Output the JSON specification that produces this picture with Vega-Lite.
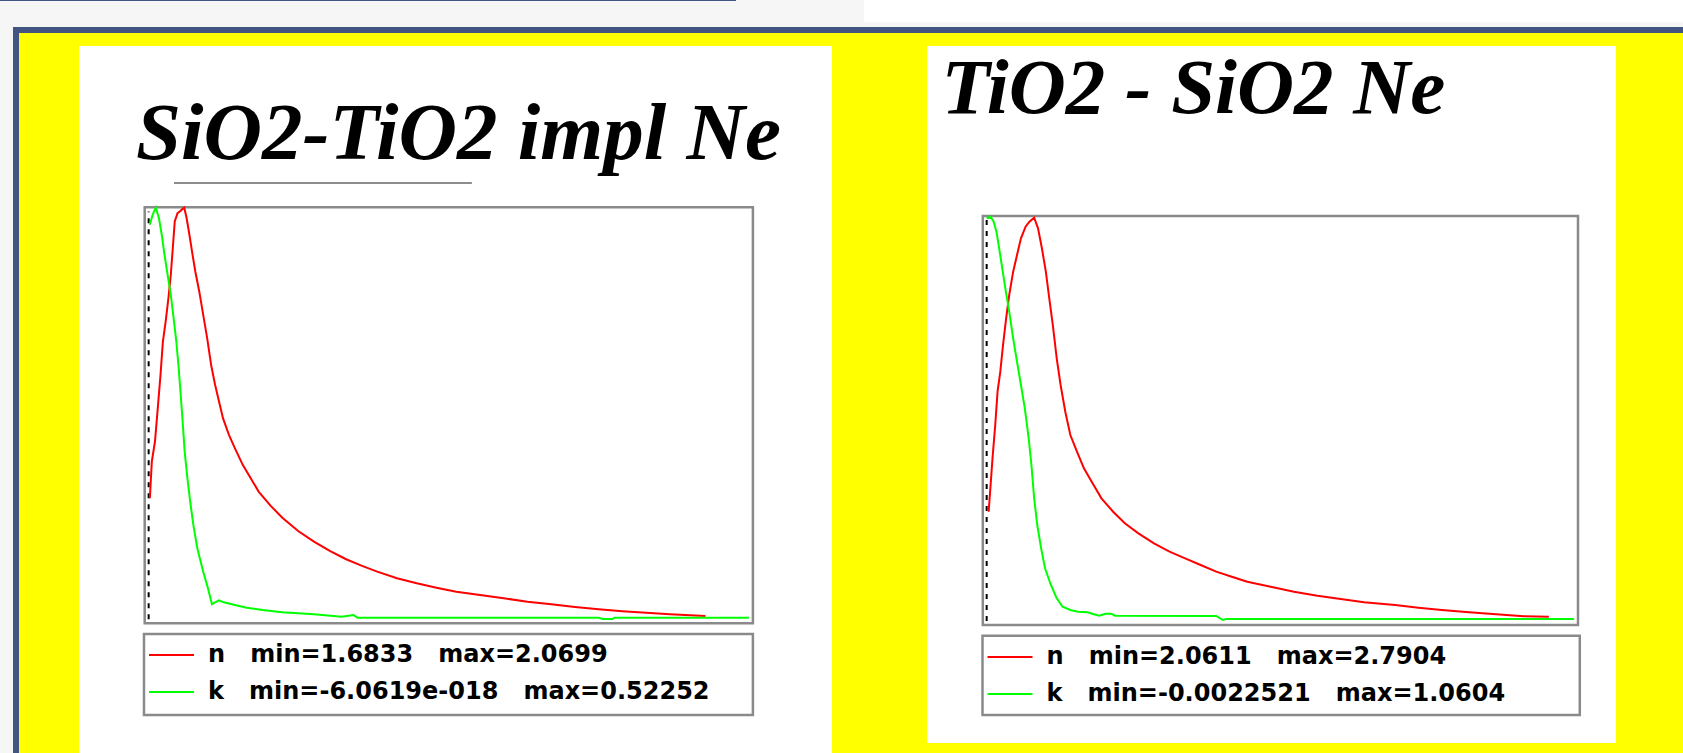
{
  "$schema": "https://vega.github.io/schema/vega-lite/v6.json",
  "background": "#ffff00",
  "padding": 0,
  "config": {"view": {"stroke": null}, "concat": {"spacing": 0}},
  "datasets": {
    "blank": [{}],
    "leftMarker": [{"wl": 6.5}],
    "rightMarker": [{"wl": 6.5}],
    "leftTitle": [{"t": "SiO2-TiO2 impl Ne"}],
    "rightTitle": [{"t": "TiO2 - SiO2 Ne"}],
    "left": [
      {"s":"n","wl":8.5,"v":1.7948},{"s":"n","wl":11.7,"v":1.8295},{"s":"n","wl":16.9,"v":1.8485},{"s":"n","wl":21.5,"v":1.8801},
      {"s":"n","wl":26.0,"v":1.9116},{"s":"n","wl":29.9,"v":1.9432},{"s":"n","wl":34.5,"v":1.9622},{"s":"n","wl":39.0,"v":1.9843},
      {"s":"n","wl":42.9,"v":2.0064},{"s":"n","wl":46.2,"v":2.0317},{"s":"n","wl":49.4,"v":2.0569},{"s":"n","wl":54.0,"v":2.0648},
      {"s":"n","wl":59.2,"v":2.0670},{"s":"n","wl":62.4,"v":2.0689},{"s":"n","wl":65.0,"v":2.0699},{"s":"n","wl":68.9,"v":2.0601},
      {"s":"n","wl":73.5,"v":2.0443},{"s":"n","wl":78.7,"v":2.0253},{"s":"n","wl":83.2,"v":2.0095},{"s":"n","wl":89.7,"v":1.9906},
      {"s":"n","wl":96.2,"v":1.9685},{"s":"n","wl":102.7,"v":1.9464},{"s":"n","wl":109.2,"v":1.9211},{"s":"n","wl":115.7,"v":1.9022},
      {"s":"n","wl":122.2,"v":1.8864},{"s":"n","wl":128.7,"v":1.8706},{"s":"n","wl":138.5,"v":1.8548},{"s":"n","wl":148.2,"v":1.8422},
      {"s":"n","wl":161.2,"v":1.8264},{"s":"n","wl":174.3,"v":1.8138},{"s":"n","wl":187.3,"v":1.8011},{"s":"n","wl":206.8,"v":1.7878},
      {"s":"n","wl":226.3,"v":1.7764},{"s":"n","wl":252.3,"v":1.7638},{"s":"n","wl":278.3,"v":1.7537},{"s":"n","wl":304.3,"v":1.7449},
      {"s":"n","wl":330.3,"v":1.7373},{"s":"n","wl":356.3,"v":1.7310},{"s":"n","wl":382.3,"v":1.7253},{"s":"n","wl":414.8,"v":1.7190},
      {"s":"n","wl":447.3,"v":1.7143},{"s":"n","wl":479.8,"v":1.7101},{"s":"n","wl":512.4,"v":1.7063},{"s":"n","wl":551.4,"v":1.7032},
      {"s":"n","wl":590.4,"v":1.7001},{"s":"n","wl":629.4,"v":1.6968},{"s":"n","wl":668.4,"v":1.6944},{"s":"n","wl":707.4,"v":1.6918},
      {"s":"n","wl":746.4,"v":1.6896},{"s":"n","wl":785.4,"v":1.6878},{"s":"n","wl":824.4,"v":1.6864},{"s":"n","wl":863.5,"v":1.6849},
      {"s":"n","wl":922.0,"v":1.6833},
      {"s":"k","wl":8.5,"v":0.5009},{"s":"k","wl":13.0,"v":0.5136},{"s":"k","wl":18.2,"v":0.52252},{"s":"k","wl":23.4,"v":0.5094},
      {"s":"k","wl":28.0,"v":0.4882},{"s":"k","wl":32.5,"v":0.4628},{"s":"k","wl":37.7,"v":0.4373},{"s":"k","wl":42.9,"v":0.4119},
      {"s":"k","wl":47.5,"v":0.3823},{"s":"k","wl":52.0,"v":0.3525},{"s":"k","wl":55.9,"v":0.3187},{"s":"k","wl":59.2,"v":0.2848},
      {"s":"k","wl":62.4,"v":0.2508},{"s":"k","wl":65.7,"v":0.2127},{"s":"k","wl":70.2,"v":0.1789},{"s":"k","wl":74.8,"v":0.1491},
      {"s":"k","wl":80.0,"v":0.1195},{"s":"k","wl":86.5,"v":0.0899},{"s":"k","wl":96.2,"v":0.0601},{"s":"k","wl":104.0,"v":0.0390},
      {"s":"k","wl":110.5,"v":0.0187},{"s":"k","wl":115.7,"v":0.0212},{"s":"k","wl":122.2,"v":0.0238},{"s":"k","wl":130.0,"v":0.0212},
      {"s":"k","wl":148.2,"v":0.0178},{"s":"k","wl":167.7,"v":0.0144},{"s":"k","wl":193.8,"v":0.0114},{"s":"k","wl":226.3,"v":0.0085},
      {"s":"k","wl":278.3,"v":0.0060},{"s":"k","wl":323.8,"v":0.0029},{"s":"k","wl":343.3,"v":0.0051},{"s":"k","wl":349.8,"v":0.0017},
      {"s":"k","wl":746.4,"v":0.0017},{"s":"k","wl":752.9,"v":0},{"s":"k","wl":769.2,"v":0},{"s":"k","wl":772.4,"v":0.0017},
      {"s":"k","wl":993.5,"v":0.0017}
    ],
    "right": [
      {"s":"n","wl":9.8,"v":2.2530},{"s":"n","wl":13.1,"v":2.3018},{"s":"n","wl":16.3,"v":2.3506},{"s":"n","wl":20.9,"v":2.4115},
      {"s":"n","wl":24.8,"v":2.4724},{"s":"n","wl":29.4,"v":2.5089},{"s":"n","wl":34.0,"v":2.5577},{"s":"n","wl":39.2,"v":2.6065},
      {"s":"n","wl":44.4,"v":2.6491},{"s":"n","wl":51.0,"v":2.6917},{"s":"n","wl":57.5,"v":2.7222},{"s":"n","wl":64.1,"v":2.7527},
      {"s":"n","wl":71.9,"v":2.7739},{"s":"n","wl":78.4,"v":2.7831},{"s":"n","wl":86.3,"v":2.7904},{"s":"n","wl":92.8,"v":2.7710},
      {"s":"n","wl":99.3,"v":2.7345},{"s":"n","wl":105.9,"v":2.6917},{"s":"n","wl":112.4,"v":2.6369},{"s":"n","wl":117.6,"v":2.5943},
      {"s":"n","wl":124.2,"v":2.5334},{"s":"n","wl":130.7,"v":2.4846},{"s":"n","wl":138.6,"v":2.4358},{"s":"n","wl":147.1,"v":2.3932},
      {"s":"n","wl":158.2,"v":2.3627},{"s":"n","wl":169.9,"v":2.3323},{"s":"n","wl":183.0,"v":2.3079},{"s":"n","wl":199.3,"v":2.2775},
      {"s":"n","wl":219.0,"v":2.2530},{"s":"n","wl":238.6,"v":2.2318},{"s":"n","wl":261.4,"v":2.2135},{"s":"n","wl":287.6,"v":2.1953},
      {"s":"n","wl":313.7,"v":2.1799},{"s":"n","wl":339.9,"v":2.1678},{"s":"n","wl":366.0,"v":2.1556},{"s":"n","wl":392.2,"v":2.1434},
      {"s":"n","wl":418.3,"v":2.1342},{"s":"n","wl":444.4,"v":2.1251},{"s":"n","wl":483.7,"v":2.1159},{"s":"n","wl":522.9,"v":2.1068},
      {"s":"n","wl":562.1,"v":2.0995},{"s":"n","wl":601.3,"v":2.0935},{"s":"n","wl":640.5,"v":2.0874},{"s":"n","wl":692.8,"v":2.0825},
      {"s":"n","wl":732.0,"v":2.0776},{"s":"n","wl":771.2,"v":2.0733},{"s":"n","wl":817.0,"v":2.0691},{"s":"n","wl":862.7,"v":2.0655},
      {"s":"n","wl":908.5,"v":2.0618},{"s":"n","wl":951.0,"v":2.0611},
      {"s":"k","wl":6.5,"v":1.0562},{"s":"k","wl":13.1,"v":1.0604},{"s":"k","wl":18.3,"v":1.0472},{"s":"k","wl":22.9,"v":1.0209},
      {"s":"k","wl":27.5,"v":0.9771},{"s":"k","wl":32.7,"v":0.9244},{"s":"k","wl":37.9,"v":0.8717},{"s":"k","wl":44.4,"v":0.8101},
      {"s":"k","wl":51.0,"v":0.7400},{"s":"k","wl":57.5,"v":0.6783},{"s":"k","wl":64.1,"v":0.6169},{"s":"k","wl":70.6,"v":0.5555},
      {"s":"k","wl":77.1,"v":0.4765},{"s":"k","wl":81.7,"v":0.4062},{"s":"k","wl":86.3,"v":0.3184},{"s":"k","wl":91.5,"v":0.2480},
      {"s":"k","wl":98.0,"v":0.1866},{"s":"k","wl":104.6,"v":0.1340},{"s":"k","wl":114.4,"v":0.0900},{"s":"k","wl":124.2,"v":0.0549},
      {"s":"k","wl":134.0,"v":0.0328},{"s":"k","wl":147.1,"v":0.0241},{"s":"k","wl":160.1,"v":0.0196},{"s":"k","wl":176.5,"v":0.0180},
      {"s":"k","wl":186.3,"v":0.0128},{"s":"k","wl":196.1,"v":0.0091},{"s":"k","wl":205.9,"v":0.0144},{"s":"k","wl":215.7,"v":0.0144},
      {"s":"k","wl":222.2,"v":0.0091},{"s":"k","wl":392.2,"v":0.0083},{"s":"k","wl":403.3,"v":-0.0022521},{"s":"k","wl":408.5,"v":0.0004},
      {"s":"k","wl":993.5,"v":0.0004}
    ]
  },
  "vconcat": [
    {"hconcat": [
      {"vconcat": [
        {"hconcat": [
          {"width": 736, "height": 1, "data": {"name": "blank"}, "mark": {"type": "rect", "color": "#425482"}, "view": {"fill": "#425482", "stroke": null}},
          {"width": 128, "height": 1, "data": {"name": "blank"}, "mark": {"type": "rect", "color": "#f6f6f6"}, "view": {"fill": "#f6f6f6", "stroke": null}}
        ]},
        {"width": 864, "height": 26, "data": {"name": "blank"}, "mark": {"type": "rect", "color": "#f6f6f6"}, "view": {"fill": "#f6f6f6", "stroke": null}}
      ]},
      {"vconcat": [
        {"width": 819, "height": 22, "data": {"name": "blank"}, "mark": {"type": "rect", "color": "#ffffff"}, "view": {"fill": "#ffffff", "stroke": null}},
        {"width": 819, "height": 5, "data": {"name": "blank"}, "mark": {"type": "rect", "color": "#f6f6f6"}, "view": {"fill": "#f6f6f6", "stroke": null}}
      ]}
    ]},
    {"hconcat": [
      {"width": 13, "height": 726, "data": {"name": "blank"}, "mark": {"type": "rect", "color": "#f6f6f6"}, "view": {"fill": "#f6f6f6", "stroke": null}},
      {"width": 6, "height": 726, "data": {"name": "blank"}, "mark": {"type": "rect", "color": "#425482"}, "view": {"fill": "#425482", "stroke": null}},
      {"vconcat": [
        {"width": 1664, "height": 6, "data": {"name": "blank"}, "mark": {"type": "rect", "color": "#425482"}, "view": {"fill": "#425482", "stroke": null}},
        {"width": 1664, "height": 13, "data": {"name": "blank"}, "mark": {"type": "rect", "opacity": 0}, "view": {"stroke": null}},
        {"hconcat": [
          {"width": 60, "height": 707, "data": {"name": "blank"}, "mark": {"type": "rect", "opacity": 0}, "view": {"stroke": null}},
          {
            "width": 753, "height": 707,
            "view": {"fill": "#ffffff", "stroke": null},
            "resolve": {"scale": {"y": "independent"}},
            "layer": [
              {"data": {"name": "leftMarker"}, "mark": {"type": "rect", "filled": false, "stroke": "#8a8a8a", "strokeWidth": 2.5},
               "encoding": {
                 "x": {"datum": 0, "type": "quantitative", "scale": {"domain": [0, 1000], "range": [65.7, 673.9], "nice": false, "zero": false}, "axis": null},
                 "x2": {"datum": 1000},
                 "y": {"datum": 0, "type": "quantitative", "scale": {"domain": [0, 1], "range": [577.3, 161.3], "nice": false, "zero": false}, "axis": null},
                 "y2": {"datum": 1}}},
              {"data": {"name": "leftMarker"}, "mark": {"type": "rect", "filled": false, "stroke": "#8a8a8a", "strokeWidth": 2.5},
               "encoding": {
                 "x": {"datum": -1.2, "type": "quantitative", "scale": {"domain": [0, 1000], "range": [65.7, 673.9], "nice": false, "zero": false}, "axis": null},
                 "x2": {"datum": 1000},
                 "y": {"datum": -0.0257, "type": "quantitative", "scale": {"domain": [0, 1], "range": [577.3, 161.3], "nice": false, "zero": false}, "axis": null},
                 "y2": {"datum": -0.2204}}},
              {"data": {"name": "leftMarker"}, "mark": {"type": "rule", "color": "#000000", "strokeWidth": 2, "strokeDash": [5, 6]},
               "encoding": {
                 "x": {"field": "wl", "type": "quantitative", "scale": {"domain": [0, 1000], "range": [65.7, 673.9], "nice": false, "zero": false}, "axis": null},
                 "y": {"datum": 0.01, "type": "quantitative", "scale": {"domain": [0, 1], "range": [577.3, 161.3], "nice": false, "zero": false}, "axis": null},
                 "y2": {"datum": 0.99}}},
              {"data": {"name": "leftTitle"}, "mark": {"type": "rule", "color": "#8c8c8c", "strokeWidth": 2},
               "encoding": {
                 "x": {"datum": 48.2, "type": "quantitative", "scale": {"domain": [0, 1000], "range": [65.7, 673.9], "nice": false, "zero": false}, "axis": null},
                 "x2": {"datum": 537.9},
                 "y": {"datum": 1.0584, "type": "quantitative", "scale": {"domain": [0, 1], "range": [577.3, 161.3], "nice": false, "zero": false}, "axis": null}}},
              {"data": {"name": "leftTitle"}, "mark": {"type": "text", "align": "left", "baseline": "alphabetic", "font": "Liberation Serif", "fontSize": 81, "fontStyle": "italic", "fontWeight": "bold", "color": "#000000"},
               "encoding": {
                 "text": {"field": "t"},
                 "x": {"datum": -14.3, "type": "quantitative", "scale": {"domain": [0, 1000], "range": [65.7, 673.9], "nice": false, "zero": false}, "axis": null},
                 "y": {"datum": 1.1161, "type": "quantitative", "scale": {"domain": [0, 1], "range": [577.3, 161.3], "nice": false, "zero": false}, "axis": null}}},
              {"data": {"name": "left"}, "transform": [{"filter": "datum.s == 'n'"}],
               "mark": {"type": "line", "strokeWidth": 2},
               "encoding": {
                 "x": {"field": "wl", "type": "quantitative", "scale": {"domain": [0, 1000], "range": [65.7, 673.9], "nice": false, "zero": false}, "axis": null},
                 "y": {"field": "v", "type": "quantitative", "scale": {"domain": [1.6833, 2.0699], "range": [570, 161.7], "nice": false, "zero": false}, "axis": null},
                 "color": {"field": "s", "type": "nominal", "scale": {"domain": ["n", "k"], "range": ["#ff0000", "#00ff00"]},
                   "legend": {"orient": "none", "legendX": 65, "legendY": 588, "title": null, "direction": "vertical",
                     "symbolType": "stroke", "symbolSize": 2025, "symbolStrokeWidth": 2,
                     "labelFont": "DejaVu Sans", "labelFontWeight": "bold", "labelFontSize": 24, "labelColor": "#000000", "labelLimit": 0,
                     "labelOffset": 13, "padding": 4, "rowPadding": 3, "clipHeight": 34,
                     "labelExpr": "datum.label == 'n' ? 'n\u00a0\u00a0\u00a0min=1.6833\u00a0\u00a0\u00a0max=2.0699' : 'k\u00a0\u00a0\u00a0min=-6.0619e-018\u00a0\u00a0\u00a0max=0.52252'"}}}},
              {"data": {"name": "left"}, "transform": [{"filter": "datum.s == 'k'"}],
               "mark": {"type": "line", "strokeWidth": 2},
               "encoding": {
                 "x": {"field": "wl", "type": "quantitative", "scale": {"domain": [0, 1000], "range": [65.7, 673.9], "nice": false, "zero": false}, "axis": null},
                 "y": {"field": "v", "type": "quantitative", "scale": {"domain": [0, 0.52252], "range": [573, 161.7], "nice": false, "zero": false}, "axis": null},
                 "color": {"field": "s", "type": "nominal", "scale": {"domain": ["n", "k"], "range": ["#ff0000", "#00ff00"]}}}}
            ]
          },
          {"width": 95, "height": 707, "data": {"name": "blank"}, "mark": {"type": "rect", "opacity": 0}, "view": {"stroke": null}},
          {
            "width": 689, "height": 697,
            "view": {"fill": "#ffffff", "stroke": null},
            "resolve": {"scale": {"y": "independent"}},
            "layer": [
              {"data": {"name": "rightMarker"}, "mark": {"type": "rect", "filled": false, "stroke": "#8a8a8a", "strokeWidth": 2.5},
               "encoding": {
                 "x": {"datum": 0, "type": "quantitative", "scale": {"domain": [0, 1000], "range": [55.8, 651], "nice": false, "zero": false}, "axis": null},
                 "x2": {"datum": 1000},
                 "y": {"datum": 0, "type": "quantitative", "scale": {"domain": [0, 1], "range": [579, 170], "nice": false, "zero": false}, "axis": null},
                 "y2": {"datum": 1}}},
              {"data": {"name": "rightMarker"}, "mark": {"type": "rect", "filled": false, "stroke": "#8a8a8a", "strokeWidth": 2.5},
               "encoding": {
                 "x": {"datum": -0.5, "type": "quantitative", "scale": {"domain": [0, 1000], "range": [55.8, 651], "nice": false, "zero": false}, "axis": null},
                 "x2": {"datum": 1003},
                 "y": {"datum": -0.0262, "type": "quantitative", "scale": {"domain": [0, 1], "range": [579, 170], "nice": false, "zero": false}, "axis": null},
                 "y2": {"datum": -0.2200}}},
              {"data": {"name": "rightMarker"}, "mark": {"type": "rule", "color": "#000000", "strokeWidth": 2, "strokeDash": [5, 6]},
               "encoding": {
                 "x": {"field": "wl", "type": "quantitative", "scale": {"domain": [0, 1000], "range": [55.8, 651], "nice": false, "zero": false}, "axis": null},
                 "y": {"datum": 0.01, "type": "quantitative", "scale": {"domain": [0, 1], "range": [579, 170], "nice": false, "zero": false}, "axis": null},
                 "y2": {"datum": 0.99}}},
              {"data": {"name": "rightTitle"}, "mark": {"type": "text", "align": "left", "baseline": "alphabetic", "font": "Liberation Serif", "fontSize": 79, "fontStyle": "italic", "fontWeight": "bold", "color": "#000000"},
               "encoding": {
                 "text": {"field": "t"},
                 "x": {"datum": -69.4, "type": "quantitative", "scale": {"domain": [0, 1000], "range": [55.8, 651], "nice": false, "zero": false}, "axis": null},
                 "y": {"datum": 1.2526, "type": "quantitative", "scale": {"domain": [0, 1], "range": [579, 170], "nice": false, "zero": false}, "axis": null}}},
              {"data": {"name": "right"}, "transform": [{"filter": "datum.s == 'n'"}],
               "mark": {"type": "line", "strokeWidth": 2},
               "encoding": {
                 "x": {"field": "wl", "type": "quantitative", "scale": {"domain": [0, 1000], "range": [55.8, 651], "nice": false, "zero": false}, "axis": null},
                 "y": {"field": "v", "type": "quantitative", "scale": {"domain": [2.0611, 2.7904], "range": [570.7, 171.7], "nice": false, "zero": false}, "axis": null},
                 "color": {"field": "s", "type": "nominal", "scale": {"domain": ["n", "k"], "range": ["#ff0000", "#00ff00"]},
                   "legend": {"orient": "none", "legendX": 55.5, "legendY": 590, "title": null, "direction": "vertical",
                     "symbolType": "stroke", "symbolSize": 2025, "symbolStrokeWidth": 2,
                     "labelFont": "DejaVu Sans", "labelFontWeight": "bold", "labelFontSize": 24, "labelColor": "#000000", "labelLimit": 0,
                     "labelOffset": 13, "padding": 4, "rowPadding": 3, "clipHeight": 34,
                     "labelExpr": "datum.label == 'n' ? 'n\u00a0\u00a0\u00a0min=2.0611\u00a0\u00a0\u00a0max=2.7904' : 'k\u00a0\u00a0\u00a0min=-0.0022521\u00a0\u00a0\u00a0max=1.0604'"}}}},
              {"data": {"name": "right"}, "transform": [{"filter": "datum.s == 'k'"}],
               "mark": {"type": "line", "strokeWidth": 2},
               "encoding": {
                 "x": {"field": "wl", "type": "quantitative", "scale": {"domain": [0, 1000], "range": [55.8, 651], "nice": false, "zero": false}, "axis": null},
                 "y": {"field": "v", "type": "quantitative", "scale": {"domain": [-0.0022521, 1.0604], "range": [574, 170.7], "nice": false, "zero": false}, "axis": null},
                 "color": {"field": "s", "type": "nominal", "scale": {"domain": ["n", "k"], "range": ["#ff0000", "#00ff00"]}}}}
            ]
          }
        ], "resolve": {"scale": {"color": "independent"}, "legend": {"color": "independent"}}}
      ]}
    ]}
  ]
}
